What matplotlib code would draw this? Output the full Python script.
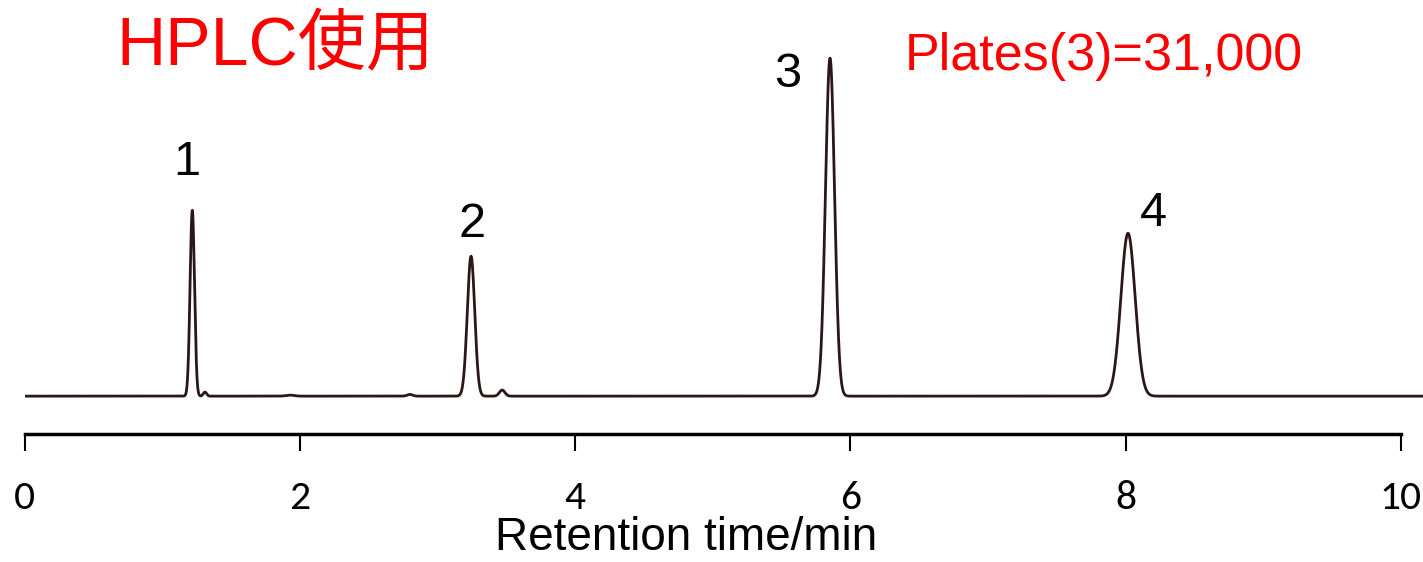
import numpy as np
import matplotlib
matplotlib.use("Agg")
import matplotlib.pyplot as plt

# Peak table (retention time in min, relative height, sigma in min)
peak_names = ["1", "2", "3", "4"]
peak_rt = [1.219, 3.244, 5.852, 8.017]
peak_height = [55.0, 41.4, 100.0, 48.2]
peak_sigma = [0.016, 0.027, 0.033, 0.052]

# small impurity bumps on the baseline
minor_rt = [1.311, 1.93, 2.80, 3.47]
minor_height = [1.2, 0.3, 0.5, 1.8]
minor_sigma = [0.012, 0.03, 0.02, 0.02]

xticks = [0, 2, 4, 6, 8, 10]
title_text = "HPLC使用"
plates_text = "Plates(3)=31,000"
xlabel_text = "Retention time/min"

W, H = 1423, 562
fig = plt.figure(figsize=(W / 100, H / 100), dpi=100)
ax = fig.add_axes([24.5 / W, (H - 434) / H, 1398.5 / W, 434 / H])

t = np.linspace(0, 10.16, 8000)
signal = np.zeros_like(t)
for rt, h, s in zip(peak_rt + minor_rt, peak_height + minor_height, peak_sigma + minor_sigma):
    signal += h * np.exp(-0.5 * ((t - rt) / s) ** 2)

ax.plot(t, signal, color="#2b1717", lw=2.0, solid_joinstyle="round")
ax.set_xlim(0, 10.16)
ax.set_ylim(-11.2, 117.2)

# peak numbers, offsets in pixels from each apex
offsets = [(-5, 35), (1, 19), (-42, -29), (25, 7)]
for name, rt, h, off in zip(peak_names, peak_rt, peak_height, offsets):
    ax.annotate(name, (rt, h), xytext=off, textcoords="offset pixels",
                ha="center", va="baseline", fontsize=35, family="Liberation Sans")

for side in ["left", "right", "top"]:
    ax.spines[side].set_visible(False)
ax.spines["bottom"].set_bounds(0, 10)
ax.spines["bottom"].set_linewidth(2.5)
ax.set_yticks([])
ax.set_xticks(xticks)
ax.set_xticklabels([str(v) for v in xticks], family=["Carlito", "Lato"], fontsize=30)
ax.tick_params(axis="x", direction="out", length=12, width=1.5, pad=21)
ax.set_xlabel(xlabel_text, family="Liberation Sans", fontsize=33, labelpad=0)
ax.xaxis.set_label_coords((686 - 24.5) / 1398.5, (434 - 516) / 434)

fig.text(116 / W, (H - 65) / H, title_text, color="#ff0000", fontsize=49,
         family=["Liberation Sans", "Noto Sans CJK JP"], va="baseline", ha="left")
fig.text(905 / W, (H - 70) / H, plates_text, color="#ff0000", fontsize=37.5,
         family="Liberation Sans", va="baseline", ha="left")

fig.savefig("out.png", dpi=100)
